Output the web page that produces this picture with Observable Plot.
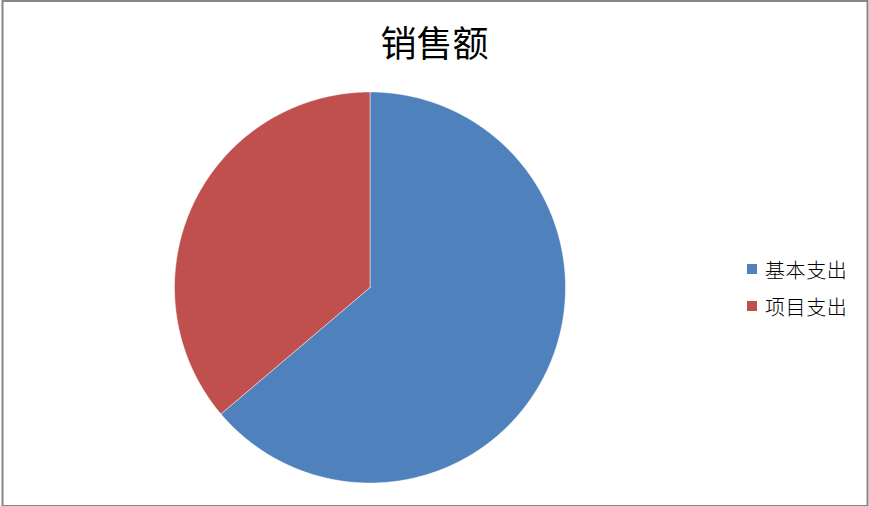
<!DOCTYPE html>
<html><head><meta charset="utf-8">
<script src="https://cdn.jsdelivr.net/npm/d3@7"></script>
<script src="https://cdn.jsdelivr.net/npm/@observablehq/plot@0.6"></script>
<style>
body{margin:0;background:#fff;}
#wrap{position:relative;width:869px;height:506px;font-family:"Noto Sans CJK SC",sans-serif;}
#wrap svg{position:absolute;left:0;top:0;}
#title{position:absolute;left:0;width:869px;top:18px;text-align:center;font-size:36px;line-height:46px;color:#000;}
#legend{position:absolute;left:747px;top:250.5px;}
.item{display:flex;align-items:center;height:37px;font-size:20px;letter-spacing:0.6px;font-weight:300;color:#000;}
.sw{width:10px;height:10px;margin-right:8px;flex:none;}
</style></head>
<body>
<div id="wrap"></div>
<script>
const title = "销售额";
const categories = ["基本支出", "项目支出"];
const values = [63.8, 36.2];
const colors = ["#4F81BD", "#C0504D"];

const table = categories.map((name, i) => ({name, value: values[i]}));
const arcs = d3.pie().sort(null).value(d => d.value).startAngle(0).endAngle(2 * Math.PI)(table);
const points = [];
for (const a of arcs) {
  const n = Math.max(2, Math.ceil((a.endAngle - a.startAngle) / 0.005));
  points.push({name: a.data.name, x: 0, y: 0});
  for (let k = 0; k <= n; k++) {
    const t = a.startAngle + (a.endAngle - a.startAngle) * k / n;
    points.push({name: a.data.name, x: Math.sin(t), y: Math.cos(t)});
  }
  points.push({name: a.data.name, x: 0, y: 0});
}

const plot = Plot.plot({
  width: 869,
  height: 506,
  margin: 0,
  x: {domain: [-1, 1], range: [174, 565], axis: null},
  y: {domain: [-1, 1], range: [482.5, 91.5], axis: null},
  color: {domain: categories, range: colors},
  marks: [
    Plot.line(points, {x: "x", y: "y", z: "name", fill: "name", stroke: "white", strokeWidth: 0.6, strokeOpacity: 0.8, curve: "linear"}),
    Plot.frame({stroke: "#868686", strokeWidth: 2, insetLeft: 2, insetRight: 2, insetTop: 0.5, insetBottom: 0.5})
  ]
});

const wrap = document.getElementById("wrap");
wrap.appendChild(plot);
const t = document.createElement("div");
t.id = "title"; t.textContent = title;
wrap.appendChild(t);
const lg = document.createElement("div");
lg.id = "legend";
categories.forEach((c, i) => {
  const it = document.createElement("div"); it.className = "item";
  const sw = document.createElement("span"); sw.className = "sw"; sw.style.background = colors[i];
  const tx = document.createElement("span"); tx.textContent = c;
  it.appendChild(sw); it.appendChild(tx); lg.appendChild(it);
});
wrap.appendChild(lg);
</script>
</body></html>
